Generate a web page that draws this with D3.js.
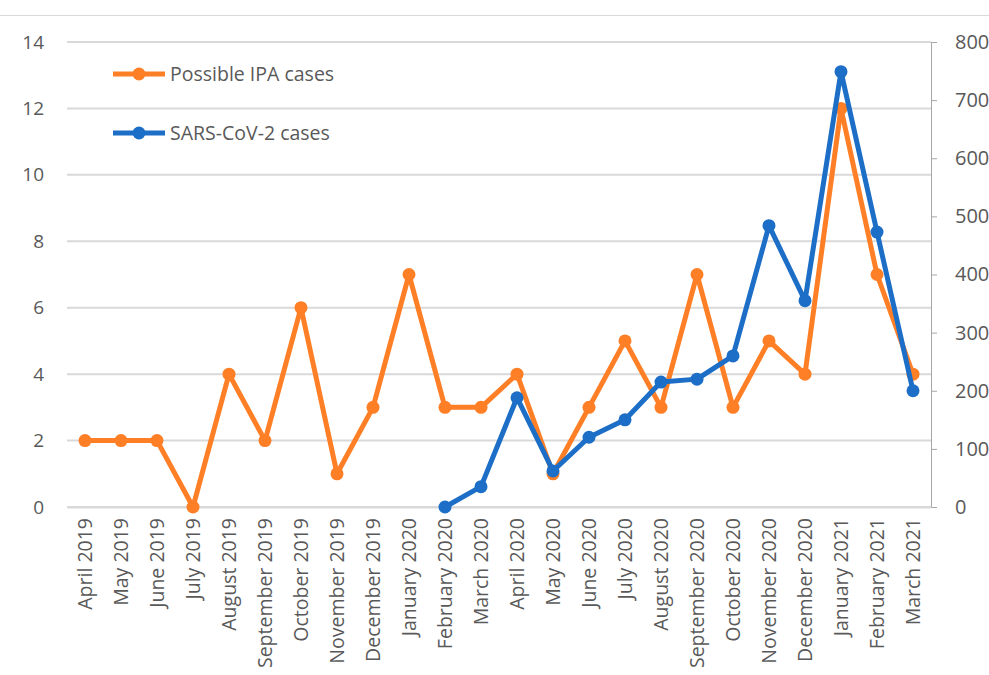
<!DOCTYPE html>
<html>
<head>
<meta charset="utf-8">
<script src="https://d3js.org/d3.v7.min.js"></script>
<style>
  body { margin: 0; background: #fff; overflow: hidden; }
  text { font-family: "Open Sans", "Noto Sans", sans-serif; fill: #595959; }
</style>
</head>
<body>
<div id="chart"></div>
<script>
// months on the x axis
const months = ["April 2019", "May 2019", "June 2019", "July 2019", "August 2019", "September 2019",
  "October 2019", "November 2019", "December 2019", "January 2020", "February 2020", "March 2020",
  "April 2020", "May 2020", "June 2020", "July 2020", "August 2020", "September 2020",
  "October 2020", "November 2020", "December 2020", "January 2021", "February 2021", "March 2021"];

// possible IPA cases (left axis)
const ipaCases = [2, 2, 2, 0, 4, 2, 6, 1, 3, 7, 3, 3, 4, 1, 3, 5, 3, 7, 3, 5, 4, 12, 7, 4];

// SARS-CoV-2 cases (right axis), starting Feb 2020
const covidCases = [null, null, null, null, null, null, null, null, null, null,
  0, 35, 188, 62, 120, 150, 215, 220, 260, 484, 355, 749, 473, 200];

const leftTicks = [0, 2, 4, 6, 8, 10, 12, 14];
const rightTicks = [0, 100, 200, 300, 400, 500, 600, 700, 800];

const width = 989, height = 675;
const margin = { left: 67, right: 58, top: 42, bottom: 168 };

const orange = "#FF7F27";
const blue = "#1C6EC6";

const svg = d3.select("#chart").append("svg")
  .attr("width", width)
  .attr("height", height);

// thin border line at the top
svg.append("line")
  .attr("x1", 0).attr("x2", width)
  .attr("y1", 15.5).attr("y2", 15.5)
  .attr("stroke", "#d9d9d9").attr("stroke-width", 1);

const x = d3.scaleBand()
  .domain(months)
  .range([margin.left, width - margin.right]);

const yLeft = d3.scaleLinear()
  .domain([0, 14])
  .range([height - margin.bottom, margin.top]);

const yRight = d3.scaleLinear()
  .domain([0, 800])
  .range([height - margin.bottom, margin.top]);

// gridlines
svg.append("g")
  .selectAll("line")
  .data(leftTicks)
  .enter().append("line")
    .attr("x1", margin.left)
    .attr("x2", width - margin.right)
    .attr("y1", d => yLeft(d))
    .attr("y2", d => yLeft(d))
    .attr("stroke", "#d9d9d9")
    .attr("stroke-width", 2);

// left axis labels
const leftAxis = svg.append("g")
  .attr("transform", `translate(${margin.left},0)`)
  .call(d3.axisLeft(yLeft).tickValues(leftTicks).tickSize(0).tickPadding(23));
leftAxis.select(".domain").remove();
leftAxis.selectAll("text").style("font-size", "19px").attr("fill", "#595959");

// right axis
const rightAxis = svg.append("g")
  .attr("transform", `translate(${width - margin.right},0)`)
  .call(d3.axisRight(yRight).tickValues(rightTicks).tickSize(6).tickSizeOuter(0).tickPadding(18));
rightAxis.select(".domain").attr("stroke", "#a6a6a6");
rightAxis.selectAll(".tick line").attr("stroke", "#a6a6a6");
rightAxis.selectAll("text").style("font-size", "20px").attr("fill", "#404040");

// bottom axis
const bottomAxis = svg.append("g")
  .attr("transform", `translate(0,${height - margin.bottom})`)
  .call(d3.axisBottom(x).tickSize(0).tickPadding(0));
bottomAxis.select(".domain").attr("stroke", "#d9d9d9").attr("stroke-width", 2);
bottomAxis.selectAll("text")
  .style("font-size", "19.5px")
  .attr("fill", "#595959")
  .attr("transform", "rotate(-90)")
  .attr("text-anchor", "end")
  .attr("x", -11)
  .attr("y", 0)
  .attr("dy", "0.35em");

// lines
const ipaLine = d3.line()
  .x((d, i) => x(months[i]) + x.bandwidth() / 2)
  .y(d => yLeft(d));

const covidLine = d3.line()
  .defined(d => d !== null)
  .x((d, i) => x(months[i]) + x.bandwidth() / 2)
  .y(d => yRight(d));

svg.append("path")
  .datum(ipaCases)
  .attr("d", ipaLine)
  .attr("fill", "none")
  .attr("stroke", orange)
  .attr("stroke-width", 5)
  .attr("stroke-linejoin", "round");

svg.append("g")
  .selectAll("circle")
  .data(ipaCases)
  .enter().append("circle")
    .attr("cx", (d, i) => x(months[i]) + x.bandwidth() / 2)
    .attr("cy", d => yLeft(d))
    .attr("r", 6.5)
    .attr("fill", orange);

svg.append("path")
  .datum(covidCases)
  .attr("d", covidLine)
  .attr("fill", "none")
  .attr("stroke", blue)
  .attr("stroke-width", 5)
  .attr("stroke-linejoin", "round");

svg.append("g")
  .selectAll("circle")
  .data(covidCases.map((v, i) => ({ v, i })).filter(d => d.v !== null))
  .enter().append("circle")
    .attr("cx", d => x(months[d.i]) + x.bandwidth() / 2)
    .attr("cy", d => yRight(d.v))
    .attr("r", 6.5)
    .attr("fill", blue);

// legend
const legendItems = [
  { label: "Possible IPA cases", color: orange, y: 74 },
  { label: "SARS-CoV-2 cases", color: blue, y: 133 }
];

const legend = svg.append("g").selectAll("g")
  .data(legendItems)
  .enter().append("g")
    .attr("transform", d => `translate(113,${d.y})`);

legend.append("line")
  .attr("x1", 0).attr("x2", 52)
  .attr("stroke", d => d.color)
  .attr("stroke-width", 5);

legend.append("circle")
  .attr("cx", 26).attr("r", 6.5)
  .attr("fill", d => d.color);

legend.append("text")
  .attr("x", 57)
  .attr("dy", "0.35em")
  .style("font-size", "19.5px")
  .attr("fill", "#595959")
  .text(d => d.label);
</script>
</body>
</html>
